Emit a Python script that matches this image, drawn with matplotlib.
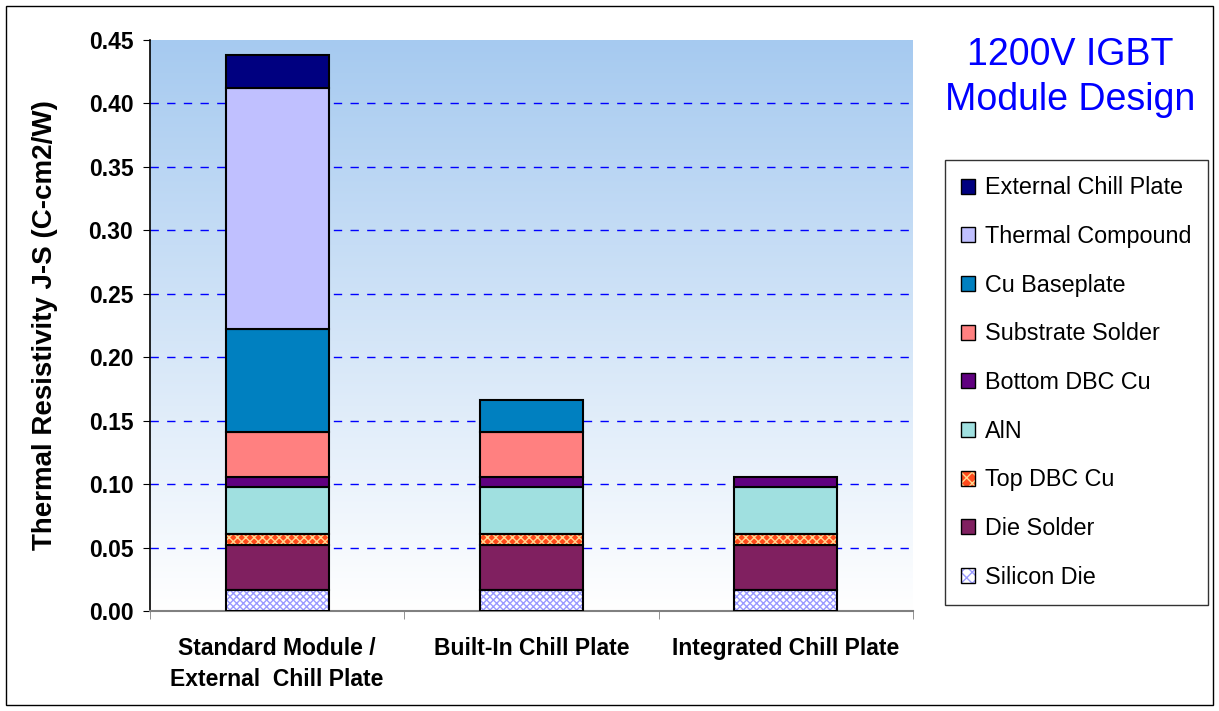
import numpy as np
import matplotlib
matplotlib.use("Agg")
import matplotlib.pyplot as plt
from matplotlib.patches import Rectangle

plt.rcParams['font.family'] = ['Liberation Sans', 'DejaVu Sans']

# data
categories = ["Standard Module /\nExternal  Chill Plate", "Built-In Chill Plate", "Integrated Chill Plate"]
layers = ["Silicon Die", "Die Solder", "Top DBC Cu", "AlN", "Bottom DBC Cu",
          "Substrate Solder", "Cu Baseplate", "Thermal Compound", "External Chill Plate"]
silicon_die = [0.0165, 0.0165, 0.0165]
die_solder = [0.0355, 0.0355, 0.0355]
top_dbc_cu = [0.0085, 0.0085, 0.0085]
aln = [0.037, 0.037, 0.037]
bottom_dbc_cu = [0.008, 0.008, 0.008]
substrate_solder = [0.0355, 0.0355, 0.0]
cu_baseplate = [0.081, 0.025, 0.0]
thermal_compound = [0.19, 0.0, 0.0]
external_chill = [0.026, 0.0, 0.0]
values = [silicon_die, die_solder, top_dbc_cu, aln, bottom_dbc_cu,
          substrate_solder, cu_baseplate, thermal_compound, external_chill]

# face color, hatch, hatch color
styles = [("white", "xxxxx", "#9a9aff"),
          ("#802060", None, None),
          ("#ff4a1c", "xxxx", "#ffd890"),
          ("#a0e0e0", None, None),
          ("#600080", None, None),
          ("#ff8080", None, None),
          ("#0080c0", None, None),
          ("#c0c0ff", None, None),
          ("#000080", None, None)]

fig = plt.figure(figsize=(12.19, 7.11), dpi=100)
ax = fig.add_axes([150/1219, 1-611/711, 763/1219, 571/711])

# gradient background
grad = np.linspace(0, 1, 256).reshape(-1, 1)
top = np.array([166, 202, 240]) / 255.0
img = np.ones((256, 1, 3)) * (1 - grad[..., None]) + top * grad[..., None]
ax.imshow(img, aspect='auto', extent=[-0.5, 2.5, 0, 0.45], origin='lower', zorder=0)

x = np.arange(len(categories))
bottom = np.zeros(len(categories))
handles = []
for name, vals, (fc, hatch, hc) in zip(layers, values, styles):
    vals = np.array(vals)
    mask = vals > 0
    if hatch:
        ax.bar(x[mask], vals[mask], 0.405, bottom=bottom[mask], color=fc,
               hatch=hatch, edgecolor=hc, linewidth=0, zorder=3)
        ax.bar(x[mask], vals[mask], 0.405, bottom=bottom[mask], color='none',
               edgecolor='black', linewidth=1.5, zorder=4)
        h = (Rectangle((0, 0), 1, 1, facecolor=fc, hatch='xxx', edgecolor=hc, linewidth=0),
             Rectangle((0, 0), 1, 1, facecolor='none', edgecolor='black', linewidth=1))
    else:
        ax.bar(x[mask], vals[mask], 0.405, bottom=bottom[mask], color=fc,
               edgecolor='black', linewidth=1.5, zorder=3)
        h = Rectangle((0, 0), 1, 1, facecolor=fc, edgecolor='black', linewidth=1)
    handles.append(h)
    bottom += vals

ax.set_xlim(-0.5, 2.5)
ax.set_ylim(0, 0.45)
ax.set_yticks(np.arange(0, 0.451, 0.05))
ax.set_yticklabels(["%.2f" % v for v in np.arange(0, 0.451, 0.05)],
                   fontsize=16.5, fontweight='bold')
for v in np.arange(0.05, 0.41, 0.05):
    ax.axhline(v, color='#0000ff', linestyle=(0, (6, 6)), linewidth=1, zorder=1)

ax.set_xticks(x)
ax.set_xticklabels(categories, fontsize=16.5, fontweight='bold', linespacing=1.4)
ax.set_xticks([-0.5, 0.5, 1.5, 2.5], minor=True)
ax.tick_params(axis='x', which='major', length=0, pad=19)
ax.tick_params(axis='x', which='minor', length=6, color='#808080')
ax.tick_params(axis='y', length=5, pad=7)

ax.set_ylabel("Thermal Resistivity J-S (C-cm2/W)", fontsize=20, fontweight='bold', labelpad=22)

for s in ['top', 'right']:
    ax.spines[s].set_visible(False)
ax.spines['bottom'].set_color('#808080')
ax.spines['bottom'].set_linewidth(1.5)
ax.spines['left'].set_linewidth(1.2)

# legend
leg = fig.legend(handles[::-1], layers[::-1], loc='upper left',
                 bbox_to_anchor=(945/1219, 1-160/711), bbox_transform=fig.transFigure,
                 fontsize=16.8, frameon=True, fancybox=False, edgecolor='black',
                 labelspacing=1.1, handlelength=0.6, handleheight=0.6,
                 handletextpad=0.4, borderpad=0.7, borderaxespad=0)
leg.get_frame().set_linewidth(1)

fig.text(1070/1219, 1-55/711, "1200V IGBT", color='#0000ff', fontsize=27,
         ha='center', va='center')
fig.text(1070/1219, 1-100/711, "Module Design", color='#0000ff', fontsize=27,
         ha='center', va='center')

# outer frame
fig.add_artist(Rectangle((6/1219, 6/711), 1-12/1219, 1-12/711, transform=fig.transFigure,
                         fill=False, edgecolor='black', linewidth=1))

fig.savefig("out.png", dpi=100)
